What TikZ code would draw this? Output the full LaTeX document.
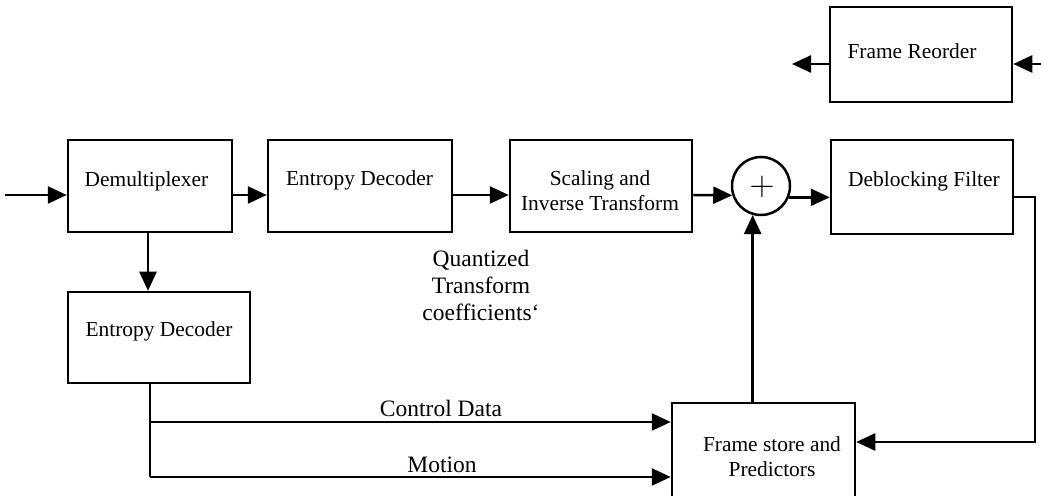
\documentclass[tikz,border=0pt]{standalone}
\usepackage{fontspec}
\setmainfont{Liberation Serif}
\usetikzlibrary{arrows.meta}
\begin{document}
\begin{tikzpicture}[x=0.5pt,y=-0.5pt,
  box/.style={draw,line width=1.25pt,inner sep=0pt,rectangle},
  sumnode/.style={draw,line width=1.25pt,circle,inner sep=0pt,minimum size=29pt},
  conn/.style={line width=1.25pt},
  arr/.style={conn,-{Triangle[length=9.5pt,width=8.5pt]}},
  boxtext/.style={font=\fontsize{10.7}{12.5}\selectfont,align=center,inner sep=0pt},
  lbl/.style={font=\fontsize{11.75}{13.5}\selectfont,align=center,inner sep=0pt}]
\clip (0,0) rectangle (1041,496);
\fill[white] (0,0) rectangle (1041,496);
% boxes
\node[box,minimum width=91pt,minimum height=47.5pt] (fr) at (921,54.5) {};
\node[box,minimum width=82pt,minimum height=46pt] (dm) at (150,186) {};
\node[box,minimum width=92pt,minimum height=46pt] (ed1) at (360,186) {};
\node[box,minimum width=91pt,minimum height=46pt] (sc) at (601,186) {};
\node[sumnode] (circ) at (761,186) {};
\node[box,minimum width=91pt,minimum height=47pt] (db) at (922,187) {};
\node[box,minimum width=91pt,minimum height=45.5pt] (ed2) at (159,337.5) {};
\node[box,minimum width=91.5pt,minimum height=58.5pt] (fs) at (763.5,461.5) {};
% box texts
\node[boxtext] (frt) at (912,51) {Frame Reorder};
\node[boxtext] (dmt) at (146.5,181) {Demultiplexer};
\node[boxtext] (ed1t) at (359.5,180) {Entropy Decoder};
\node[boxtext] (sct) at (600,191) {Scaling and\\Inverse Transform};
\node[boxtext] (dbt) at (924,181) {Deblocking Filter};
\node[boxtext] (ed2t) at (159,331) {Entropy Decoder};
\node[boxtext] (fst) at (772,457) {Frame store and\\Predictors};
\node[font=\fontsize{19}{19}\selectfont,inner sep=0pt] (plus) at (762,187) {$+$};
% labels
\node[lbl] (qt) at (481,285) {Quantized\\Transform\\coefficients`};
\node[lbl] (cd) at (441,408) {Control Data};
\node[lbl] (mo) at (442,465) {Motion};
% coordinates
\coordinate (r1) at (0,195);
\coordinate (in) at (5,195);
\coordinate (frout) at (792,64);
\coordinate (frin) at (1045,64);
\coordinate (dx) at (148,0);
\coordinate (cy) at (150,422);
\coordinate (my) at (150,477);
\coordinate (fbtop) at (1035,197);
\coordinate (fbbot) at (1035,442);
% connectors
\draw[arr] (fr.west |- frout) -- (frout);
\draw[arr] (frin) -- (frin -| fr.east);
\draw[arr] (in) -- (in -| dm.west);
\draw[arr] (dm.east |- r1) -- (ed1.west |- r1);
\draw[arr] (ed1.east |- r1) -- (sc.west |- r1);
\draw[arr] (sc.east |- r1) -- (circ.198);
\draw[arr] (circ.-22) -- (db.west |- circ.-22);
\draw[arr] (db.east |- fbtop) -- (fbtop) -- (fbbot) -- (fbbot -| fs.east);
\draw[arr] (fs.north -| circ.254) -- (circ.254);
\draw[arr] (dm.south -| dx) -- (ed2.north -| dx);
\draw[conn] (ed2.south -| cy) -- (my);
\draw[arr] (cy) -- (cy -| fs.west);
\draw[arr] (my) -- (my -| fs.west);
\end{tikzpicture}
\end{document}
